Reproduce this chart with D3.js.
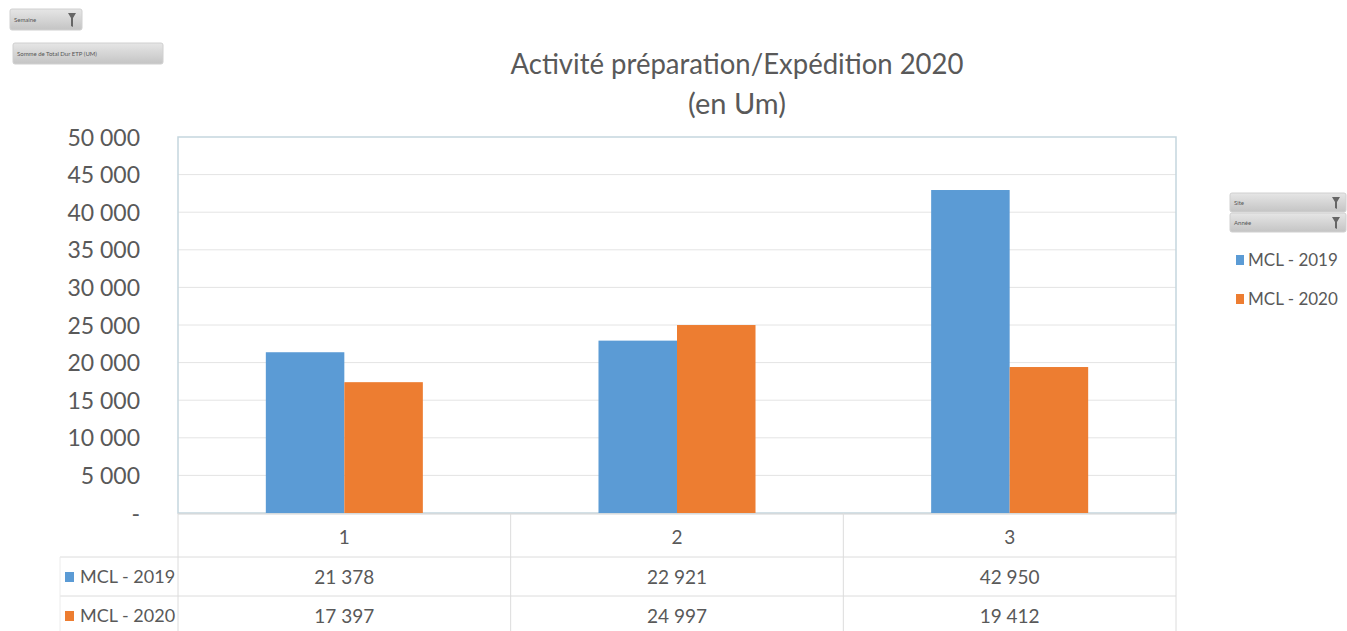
<!DOCTYPE html>
<html>
<head>
<meta charset="utf-8">
<script src="https://cdn.jsdelivr.net/npm/d3@7"></script>
<style>
  html, body { margin: 0; padding: 0; background: #fff; }
  svg { display: block; font-family: Lato, "Open Sans", sans-serif; }
</style>
</head>
<body>
<svg id="chart" width="1347" height="631"></svg>
<script>
// ---- Data ----
const categories = ["1", "2", "3"];
const seriesNames = ["MCL - 2019", "MCL - 2020"];
const values2019 = [21378, 22921, 42950];
const values2020 = [17397, 24997, 19412];
const yTickValues = [0, 5000, 10000, 15000, 20000, 25000, 30000, 35000, 40000, 45000, 50000];
const titleLines = ["Activité préparation/Expédition 2020", "(en Um)"];
const topFilters = ["Semaine", "Somme de Total Dur ETP (UM)"];
const sideFilters = ["Site", "Année"];

const seriesValues = [values2019, values2020];
const colors = ["#5b9bd5", "#ed7d31"];
const textColor = "#595959";

const svg = d3.select("#chart");

// layout
const plot = { left: 178, right: 1176, top: 137, bottom: 513 };
const tableLeft = 60;
const rowLines = [557, 596];
const rowCenters = [537, 577, 616];

const x = d3.scaleBand().domain(categories).range([plot.left, plot.right]).paddingInner(0).paddingOuter(0);
const groupRatio = 0.472;
const x1 = d3.scaleBand().domain(seriesNames)
  .range([x.bandwidth() * (1 - groupRatio) / 2, x.bandwidth() * (1 + groupRatio) / 2]).padding(0);
const y = d3.scaleLinear().domain([0, 50000]).range([plot.bottom, plot.top]);

const fmt = v => v === 0 ? "-" : d3.format(",")(v).replace(/,/g, " ");

// gridlines
svg.append("g")
  .selectAll("line").data(yTickValues.filter(v => v > 0 && v < 50000)).join("line")
  .attr("x1", plot.left).attr("x2", plot.right)
  .attr("y1", d => y(d)).attr("y2", d => y(d))
  .attr("stroke", "#e4e4e4").attr("stroke-width", 1);

// plot border
svg.append("rect")
  .attr("x", plot.left).attr("y", plot.top)
  .attr("width", plot.right - plot.left).attr("height", plot.bottom - plot.top)
  .attr("fill", "none").attr("stroke", "#c5d6de").attr("stroke-width", 1.5);

// y axis (labels only)
const yAxis = d3.axisLeft(y).tickValues(yTickValues).tickFormat(fmt).tickSize(0).tickPadding(0);
const yg = svg.append("g").attr("transform", `translate(140,0)`).call(yAxis);
yg.select(".domain").remove();
yg.selectAll("text").attr("fill", textColor).style("font-size", "23px")
  .attr("font-family", "Lato, 'Open Sans', sans-serif").attr("dy", "0.35em");

// bars
const groups = svg.append("g").selectAll("g").data(categories).join("g")
  .attr("transform", d => `translate(${x(d)},0)`);
groups.selectAll("rect")
  .data((d, i) => seriesNames.map((s, j) => ({ s, j, v: seriesValues[j][i] })))
  .join("rect")
  .attr("x", d => x1(d.s)).attr("width", x1.bandwidth())
  .attr("y", d => y(d.v)).attr("height", d => y(0) - y(d.v))
  .attr("fill", d => colors[d.j]);

// data table
const tbl = svg.append("g");
tbl.append("line").attr("x1", plot.left).attr("x2", plot.right)
  .attr("y1", plot.bottom + 1).attr("y2", plot.bottom + 1).attr("stroke", "#d4d4d4");
rowLines.forEach(yy => {
  tbl.append("line").attr("x1", tableLeft).attr("x2", plot.right)
    .attr("y1", yy).attr("y2", yy).attr("stroke", "#dcdcdc");
});
// vertical separators
[plot.left, ...categories.slice(1).map(c => x(c)), plot.right].forEach(xx => {
  tbl.append("line").attr("x1", xx).attr("x2", xx)
    .attr("y1", plot.bottom).attr("y2", 631).attr("stroke", "#dcdcdc");
});
tbl.append("line").attr("x1", tableLeft).attr("x2", tableLeft)
  .attr("y1", rowLines[0]).attr("y2", 631).attr("stroke", "#ececec");

// category labels
tbl.selectAll("text.cat").data(categories).join("text").attr("class", "cat")
  .attr("x", d => x(d) + x.bandwidth() / 2).attr("y", rowCenters[0])
  .attr("dy", "0.35em").attr("text-anchor", "middle")
  .attr("fill", textColor).style("font-size", "19px").text(d => d);

// series rows
seriesNames.forEach((s, j) => {
  const cy = rowCenters[j + 1];
  tbl.append("rect").attr("x", 65).attr("y", cy - 5).attr("width", 9).attr("height", 10).attr("fill", colors[j]);
  tbl.append("text").attr("x", 80).attr("y", cy).attr("dy", "0.35em")
    .attr("fill", textColor).style("font-size", "18px").text(s);
  tbl.selectAll(null).data(categories).join("text")
    .attr("x", d => x(d) + x.bandwidth() / 2).attr("y", cy).attr("dy", "0.35em")
    .attr("text-anchor", "middle").attr("fill", textColor).style("font-size", "19px")
    .text((d, i) => fmt(seriesValues[j][i]));
});

// title
svg.append("text").attr("x", 737).attr("y", 74).attr("text-anchor", "middle")
  .attr("fill", textColor).style("font-size", "29px")
  .attr("textLength", 453).attr("lengthAdjust", "spacingAndGlyphs")
  .text(titleLines[0]);
svg.append("text").attr("x", 737).attr("y", 114).attr("text-anchor", "middle")
  .attr("fill", textColor).style("font-size", "29px").text(titleLines[1]);

// filter buttons
const defs = svg.append("defs");
const grad = defs.append("linearGradient").attr("id", "btn").attr("x1", 0).attr("y1", 0).attr("x2", 0).attr("y2", 1);
grad.append("stop").attr("offset", "0%").attr("stop-color", "#e6e6e6");
grad.append("stop").attr("offset", "100%").attr("stop-color", "#c4c4c4");

function button(bx, by, w, h, label, funnel) {
  const g = svg.append("g");
  g.append("rect").attr("x", bx).attr("y", by).attr("width", w).attr("height", h)
    .attr("rx", 2).attr("fill", "url(#btn)").attr("stroke", "#d0d0d0");
  g.append("text").attr("x", bx + 4).attr("y", by + h / 2).attr("dy", "0.35em")
    .attr("fill", "#555").style("font-size", "6px").text(label);
  if (funnel) {
    const fx = bx + w - 10, fy = by + 4;
    g.append("path")
      .attr("d", `M${fx - 4},${fy} L${fx + 4},${fy} L${fx + 1},${fy + 5} L${fx + 1},${fy + h - 7} L${fx - 1},${fy + h - 8} L${fx - 1},${fy + 5} Z`)
      .attr("fill", "#666");
  }
}
button(10, 9, 72, 21, topFilters[0], true);
button(13, 43, 150, 21, topFilters[1], false);
button(1230, 193, 116, 19, sideFilters[0], true);
button(1230, 213, 116, 19, sideFilters[1], true);

// right legend
seriesNames.forEach((s, j) => {
  const ly = [260, 299][j];
  svg.append("rect").attr("x", 1236).attr("y", ly - 5).attr("width", 8).attr("height", 10).attr("fill", colors[j]);
  svg.append("text").attr("x", 1248).attr("y", ly).attr("dy", "0.35em")
    .attr("fill", textColor).style("font-size", "17px").text(s);
});
</script>
</body>
</html>
